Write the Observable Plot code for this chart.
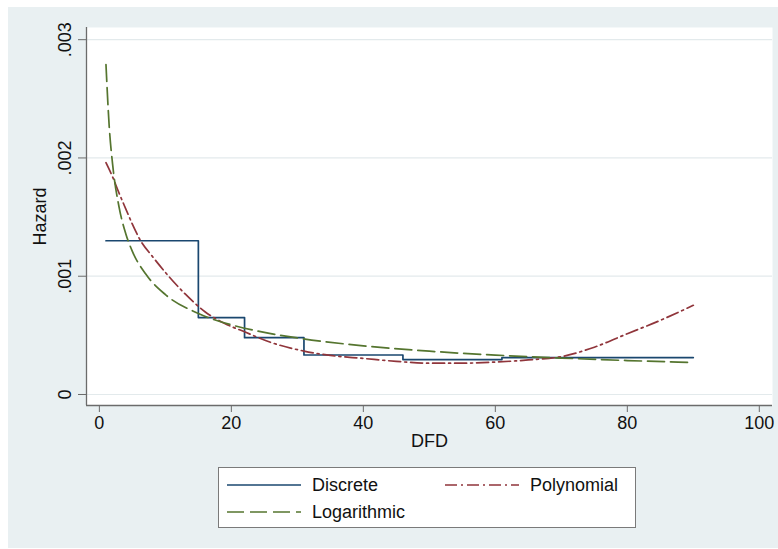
<!DOCTYPE html>
<html>
<head>
<meta charset="utf-8">
<script src="https://cdn.jsdelivr.net/npm/d3@7"></script>
<script src="https://cdn.jsdelivr.net/npm/@observablehq/plot@0.6"></script>
<style>
  html, body { margin: 0; padding: 0; background: #ffffff; }
  #root { position: relative; width: 778px; height: 549px; overflow: hidden; font-family: "Liberation Sans", Arial, sans-serif; }
  #panel { position: absolute; left: 8px; top: 7px; width: 770px; height: 541px; background: #e9f0f2; }
  #chart { position: absolute; left: 0; top: 0; }
  #legend { position: absolute; left: 218px; top: 467px; width: 418px; height: 61px; box-sizing: border-box;
            border: 1px solid #7a7a7a; background: #ffffff; }
  .item { position: absolute; height: 20px; display: flex; align-items: center; font-size: 18px; color: #111; }
  .item svg { margin-right: 11px; }
</style>
</head>
<body>
<div id="root">
  <div id="panel"></div>
  <div id="chart"></div>
  <div id="legend"></div>
</div>
<script>
// ---- data ----
const seriesNames = ["Discrete", "Polynomial", "Logarithmic"];
const seriesColors = ["#1a476f", "#90353b", "#55752f"];
const seriesDash = [null, "12,4,2,4", "17,6"];

// Discrete (step) hazard: DFD at which each level starts, and the level
const discreteDFD = [1, 15, 22, 31, 46, 61, 90];
const discreteHazard = [0.0013, 0.00065, 0.00048, 0.000334, 0.000295, 0.000312, 0.000312];

// Polynomial hazard
const polyDFD = [1, 2, 3, 4, 5, 6.25, 8, 10.5, 13, 16, 19, 22, 26, 31, 35, 40, 45, 50, 55, 60, 65, 70, 75, 80, 85, 90];
const polyHazard = [0.00196, 0.00184, 0.0017, 0.00157, 0.00144, 0.0013, 0.00117, 0.001, 0.00085, 0.0007, 0.0006, 0.00053,
                    0.00044, 0.000367, 0.00033, 0.000305, 0.00028, 0.000265, 0.000265, 0.000274, 0.000292, 0.00032,
                    0.0004, 0.000514, 0.000627, 0.000754];

// Logarithmic hazard
const logDFD = [1, 1.5, 2, 3, 4, 5, 7, 10, 15, 20, 25, 30, 40, 50, 60, 70, 80, 90];
const logHazard = [0.00279, 0.00226, 0.00195, 0.00158, 0.00136, 0.00121, 0.00102, 0.000845, 0.000685, 0.000589,
                   0.000525, 0.000478, 0.000411, 0.000366, 0.000333, 0.000308, 0.000287, 0.00027];

const xTicks = [0, 20, 40, 60, 80, 100];
const yTicks = [0, 0.001, 0.002, 0.003];
const yTickLabels = ["0", ".001", ".002", ".003"];
const xTitle = "DFD";
const yTitle = "Hazard";

// ---- build tables ----
const discrete = discreteDFD.map((x, i) => ({x, y: discreteHazard[i]}));
const poly = polyDFD.map((x, i) => ({x, y: polyHazard[i]}));
const logc = logDFD.map((x, i) => ({x, y: logHazard[i]}));

const xDomain = [-1.95, 102];
const yDomain = [-0.0000931, 0.003103];
const axisColor = "#6b6b6b";

const chart = Plot.plot({
  width: 778,
  height: 549,
  marginLeft: 86,
  marginRight: 6,
  marginTop: 27,
  marginBottom: 144,
  x: {domain: xDomain},
  y: {domain: yDomain},
  style: {background: "transparent", fontFamily: "'Liberation Sans', Arial, sans-serif", fontSize: "18px", color: "#111"},
  marks: [
    Plot.frame({fill: "white", stroke: null}),
    Plot.gridY(yTicks, {stroke: "#e3eaec", strokeOpacity: 1, strokeWidth: 1.2}),
    Plot.ruleX([xDomain[0]], {stroke: axisColor, strokeWidth: 1.3}),
    Plot.ruleY([yDomain[0]], {stroke: axisColor, strokeWidth: 1.3}),
    Plot.axisY({ticks: yTicks, tickSize: 8, fill: "none", stroke: axisColor, label: null}),
    Plot.text(yTicks, {y: d => d, text: (d, i) => yTickLabels[i], frameAnchor: "left", dx: -21,
                       rotate: -90, textAnchor: "middle", lineAnchor: "middle", fontSize: 18, fill: "#111"}),
    Plot.axisX({ticks: xTicks, tickSize: 7, tickPadding: 4, stroke: axisColor, fill: "#111", label: null, fontSize: 18}),
    Plot.text([yTitle], {y: () => (yDomain[0] + yDomain[1]) / 2, frameAnchor: "left", dx: -46, rotate: -90,
                         textAnchor: "middle", lineAnchor: "middle", fontSize: 18, fill: "#111"}),
    Plot.text([xTitle], {frameAnchor: "bottom", dy: 41.5, fontSize: 18, fill: "#111"}),
    Plot.line(discrete, {x: "x", y: "y", curve: "step-after", stroke: seriesColors[0], strokeWidth: 1.7}),
    Plot.line(poly, {x: "x", y: "y", curve: "monotone-x", stroke: seriesColors[1], strokeWidth: 1.7, strokeDasharray: seriesDash[1]}),
    Plot.line(logc, {x: "x", y: "y", curve: "monotone-x", stroke: seriesColors[2], strokeWidth: 1.7, strokeDasharray: seriesDash[2]})
  ]
});
document.getElementById("chart").appendChild(chart);

// ---- legend ----
const legend = document.getElementById("legend");
const positions = [[8, 7], [226, 7], [8, 34]]; // left, top within box
seriesNames.forEach((name, i) => {
  const div = document.createElement("div");
  div.className = "item";
  div.style.left = positions[i][0] + "px";
  div.style.top = positions[i][1] + "px";
  const dash = seriesDash[i] ? ` stroke-dasharray="${seriesDash[i]}"` : "";
  div.innerHTML = `<svg width="74" height="20"><line x1="0" y1="10" x2="74" y2="10" stroke="${seriesColors[i]}" stroke-width="1.7"${dash}/></svg><span>${name}</span>`;
  legend.appendChild(div);
});
</script>
</body>
</html>
